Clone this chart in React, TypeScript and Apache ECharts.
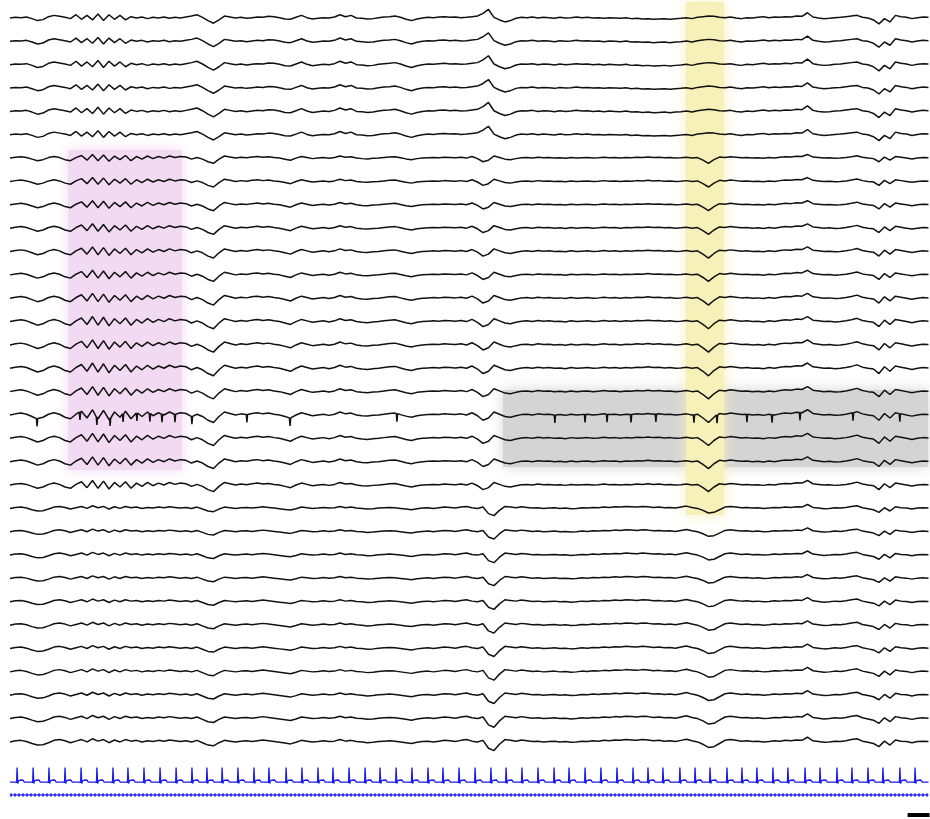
import { useEffect, useRef } from "react";
import * as echarts from "echarts";

// sample interval of the EEG templates (seconds)
const DT = 0.25;

// typical waveform of the upper channels (µV-like units)
const TOP = [
  0, 2, 1, 3, -2, -8, -5, 4, 8, 5,
  2, -2, 10, -4, 8, -6, 12, -8, 10, -4,
  8, -6, 4, 0, 3, -2, 2, 0, 3, -1,
  2, 0, 3, 6, 10, 2, -8, -16, -6, 6,
  3, 0, 2, -1, 1, 3, 2, 5, 4, 1,
  -3, -4, 2, 8, 1, -3, -1, 1, 0, 3,
  10, 4, 8, 0, -1, -3, -2, 1, 3, 4,
  6, 2, -4, -8, -3, 0, 2, 1, 3, 4,
  2, 3, 1, 2, 4, 6, 14, 26, 2, -6,
  -12, -8, -1, 2, 1, 3, 0, 2, 1, -1,
  2, 0, 1, 3, 1, 2, 0, 1, -1, 1,
  0, -1, 1, -2, -1, -3, -2, -4, -3, -2,
  -4, -2, -1, 1, -2, 2, 4, 6, 5, 2,
  1, 3, 0, -2, 1, 0, 2, 4, 1, 3,
  2, 4, 3, 6, 5, 16, 3, 0, -2, -1,
  1, 2, 4, 6, 8, 2, 0, -6, -18, -2,
  -12, 8, 4, 2, -2, 1, 3, 2,
];

// waveform of the middle channels (fast activity early, dip at ~31.5 s)
const MID = [
  0, 3, 5, 2, -4, -10, -6, 2, 6, 2,
  -6, -10, 2, 10, -8, 14, -10, 12, -12, 8,
  -6, 10, -10, 6, -4, 8, -2, 6, 0, 8,
  2, 6, 4, -4, 2, -4, -14, -20, -4, 8,
  4, 0, 3, 1, 4, 6, 3, 5, 2, 0,
  -4, -8, 0, 6, 2, -2, 0, 2, -1, 2,
  8, 3, 5, 0, -2, -3, -1, 0, 2, 4,
  5, 1, -3, -6, -2, 0, 1, 2, 1, 3,
  2, 1, 3, 0, 6, -2, -14, -8, 8, 2,
  -4, -6, -2, 1, 2, 0, 3, 1, 2, 0,
  1, -1, 2, 0, 1, 2, 0, 1, 3, 1,
  2, 0, 2, 1, 3, 2, 4, 2, 3, 1,
  2, 0, 1, 3, 0, 2, -8, -20, -6, 4,
  2, 5, 3, 1, 2, 0, 1, -1, 2, 0,
  3, 5, 4, 7, 6, 14, 4, 2, 0, 1,
  -1, 0, 2, 5, 9, 3, 0, -2, -14, 4,
  -8, 6, 3, 0, -3, 0, 2, 1,
];

// waveform of the lower channels (negative deflection at ~21.7 s)
const BOT = [
  0, 3, 4, 1, -4, -8, -7, -2, 4, 6,
  3, -2, 2, 6, 0, 8, 2, 6, -2, 5,
  0, 6, 2, 4, 0, 3, 1, 4, 2, 5,
  3, 1, 3, 0, 4, -2, -8, -10, -2, 4,
  2, 0, 2, 3, 1, 3, 5, 3, 1, -1,
  -3, -5, -1, 4, 2, 0, 1, 3, 1, 2,
  6, 2, 4, 1, 0, -2, -1, 1, 2, 3,
  2, 0, -2, -4, -1, 1, 2, 0, 2, 4,
  3, 1, 4, 6, 2, 0, 4, -16, -22, -6,
  6, 4, 2, 5, 3, 1, 2, 0, 1, 2,
  0, 1, -1, 0, 2, 1, 3, 2, 4, 3,
  5, 4, 6, 5, 4, 6, 5, 3, 4, 2,
  3, 1, 4, 7, 3, 0, -6, -14, -12, -4,
  4, 6, 4, 2, 3, 1, 2, 0, 1, 3,
  2, 4, 3, 5, 4, 12, 3, 1, -1, 0,
  2, 1, 3, 6, 8, 2, -1, -4, -12, 2,
  -8, 5, 2, 1, -2, 1, 2, 1,
];

// which template each of the 32 channels follows, and its gain
const CHANNEL_TEMPLATE = [
  "T", "T", "T", "T", "T", "T",
  "M", "M", "M", "M", "M", "M", "M", "M", "M", "M", "M", "M", "M", "M", "M",
  "B", "B", "B", "B", "B", "B", "B", "B", "B", "B", "B",
];
const CHANNEL_GAIN = [
  1.0, 1.0, 1.05, 1.0, 1.05, 1.0,
  0.8, 0.85, 0.9, 0.95, 1.0, 1.0, 1.05, 1.1, 1.1, 1.15, 1.1, 1.15, 1.1, 1.05, 1.0,
  1.0, 1.0, 1.05, 1.0, 1.05, 1.1, 1.1, 1.15, 1.15, 1.2, 1.2,
];

// spike-bearing channel and spike times (s)
const SPIKE_CHANNEL = 17;
const SPIKE_TIMES = [
  1.23, 3.18, 3.95, 4.55, 5.14, 5.77, 6.36, 6.91, 7.5, 8.27, 10.77, 12.73, 17.59,
  24.77, 26.14, 27.14, 28.23, 29.36, 31.09, 32.14, 33.5, 34.64, 35.91, 38.32, 40.45,
];
const SPIKE_DEPTH = 34;

// ECG R-peak times (s) and beat shape
const ECG_BEATS = [
  0.32, 1.05, 1.77, 2.5, 3.23, 3.95, 4.68, 5.36, 6.09, 6.82,
  7.55, 8.27, 8.95, 9.64, 10.36, 11.09, 11.77, 12.55, 13.27, 14.0,
  14.68, 15.41, 16.14, 16.82, 17.55, 18.27, 19.0, 19.68, 20.41, 21.14,
  21.86, 22.55, 23.27, 24.0, 24.73, 25.41, 26.14, 26.86, 27.59, 28.32,
  29.0, 29.68, 30.45, 31.14, 31.82, 32.59, 33.27, 33.95, 34.68, 35.36,
  36.14, 36.82, 37.59, 38.27, 39.0, 39.68, 40.45, 41.14,
];
const ECG_SHAPE_T = [-0.05, -0.02, 0, 0.035, 0.07, 0.12, 0.26, 0.33];
const ECG_SHAPE_V = [0, -3, 62, -6, 5, 8, 9, 0];

// scale bar (s)
const SCALE_BAR = [40.8, 41.8];

export default function App() {
  const ref = useRef<HTMLDivElement>(null);

  useEffect(() => {
    if (!ref.current) return;
    const chart = echarts.init(ref.current, null, { renderer: "svg" });

    const SPACING = 100;
    const GAIN = 1.4;
    const Y_MAX = 77;
    const Y_MIN = -3430;
    const ECG_BASE = -3272;
    const TRIG_BASE = -3327;
    const BAR_Y = -3413;
    const T_END = (TOP.length - 1) * DT;

    const templates: Record<string, number[]> = { T: TOP, M: MID, B: BOT };

    const channelSeries = CHANNEL_TEMPLATE.map((key, c) => {
      const tpl = templates[key];
      const off = -c * SPACING;
      const g = CHANNEL_GAIN[c] * GAIN;
      let pts: number[][] = tpl.map((v, i) => [i * DT, off + v * g]);
      if (c === SPIKE_CHANNEL) {
        const extra: number[][] = [];
        SPIKE_TIMES.forEach((s) => {
          const i = Math.min(Math.floor(s / DT), tpl.length - 2);
          const f = s / DT - i;
          const base = off + (tpl[i] * (1 - f) + tpl[i + 1] * f) * g;
          extra.push([s - 0.03, base], [s, base - SPIKE_DEPTH], [s + 0.03, base]);
        });
        pts = pts
          .filter((p) => !SPIKE_TIMES.some((s) => Math.abs(p[0] - s) < 0.035))
          .concat(extra)
          .sort((a, b) => a[0] - b[0]);
      }
      return {
        type: "line",
        data: pts,
        showSymbol: false,
        silent: true,
        z: 3,
        lineStyle: { color: "#111111", width: 1.5 },
      };
    });

    const ecg: number[][] = [[0, ECG_BASE]];
    ECG_BEATS.forEach((b) => {
      ECG_SHAPE_T.forEach((dt, k) => ecg.push([b + dt, ECG_BASE + ECG_SHAPE_V[k]]));
    });
    ecg.push([T_END, ECG_BASE]);

    const option: any = {
      animation: false,
      backgroundColor: "#ffffff",
      grid: { left: 10, top: 0, width: 920, height: 819 },
      xAxis: { type: "value", min: 0, max: 41.82, show: false },
      yAxis: { type: "value", min: Y_MIN, max: Y_MAX, show: false },
      series: [
        {
          type: "line",
          data: [],
          silent: true,
          z: 1,
          markArea: {
            silent: true,
            data: [
              [
                { xAxis: 22.41, yAxis: -1593, itemStyle: { color: "#d4d4d4", shadowBlur: 14, shadowColor: "#d4d4d4" } },
                { xAxis: 41.73, yAxis: -1923 },
              ],
              [
                { xAxis: 2.64, yAxis: -565, itemStyle: { color: "#f2daf2", shadowBlur: 14, shadowColor: "#f2daf2" } },
                { xAxis: 7.82, yAxis: -1936 },
              ],
              [
                { xAxis: 30.73, yAxis: 68, itemStyle: { color: "#f7f0b9", shadowBlur: 14, shadowColor: "#f7f0b9" } },
                { xAxis: 32.45, yAxis: -2128 },
              ],
            ],
          },
        },
        ...channelSeries,
        {
          type: "line",
          data: ecg,
          showSymbol: false,
          silent: true,
          z: 3,
          lineStyle: { color: "#1a1aee", width: 1.3 },
        },
        {
          type: "line",
          data: [[0, TRIG_BASE], [T_END, TRIG_BASE]],
          showSymbol: false,
          silent: true,
          z: 3,
          lineStyle: { color: "#2a2aee", width: 1.2 },
        },
        {
          type: "line",
          data: [[0, TRIG_BASE], [T_END, TRIG_BASE]],
          showSymbol: false,
          silent: true,
          z: 3,
          lineStyle: { color: "#2a2aee", width: 3, type: [2, 2] },
        },
        {
          type: "line",
          data: [[SCALE_BAR[0], BAR_Y], [SCALE_BAR[1], BAR_Y]],
          showSymbol: false,
          silent: true,
          z: 3,
          lineStyle: { color: "#000000", width: 4 },
        },
      ],
    };

    chart.setOption(option);
    return () => chart.dispose();
  }, []);

  return (
    <div
      ref={ref}
      style={{ position: "fixed", left: 0, top: 0, width: 930, height: 819, background: "#ffffff" }}
    />
  );
}
